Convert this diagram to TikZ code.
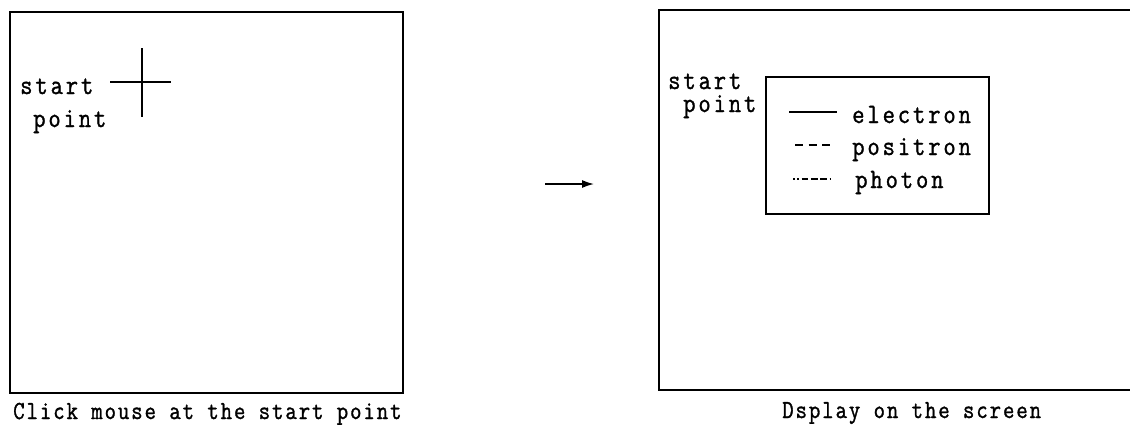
\documentclass[tikz,border=0pt]{standalone}
\usepackage{fontspec}
\setmonofont{Latin Modern Mono}
\usetikzlibrary{arrows.meta}
\newfontfamily\labelfont{Latin Modern Mono}[FakeStretch=0.85,LetterSpace=10.5,FakeBold=1.2]
\newfontfamily\captionfont{Latin Modern Mono}[FakeStretch=0.85,LetterSpace=7.5,FakeBold=1.2]
\tikzset{
  frame/.style={line width=1.7pt, line join=miter},
  legendframe/.style={line width=1.1pt},
  stroke/.style={line width=1.1pt},
  lbl/.style={anchor=base west, inner sep=0pt, font=\fontsize{21}{23}\labelfont},
  captext/.style={anchor=base west, inner sep=0pt, font=\fontsize{19.5}{23}\captionfont},
}
\begin{document}
\begin{tikzpicture}[x=0.75pt,y=-0.75pt]
\useasboundingbox (0,0) rectangle (1130,444);

% left screen: the user clicks at the start point
\draw[frame] (10,12) rectangle (403,393);
\node[lbl] (startL) at (20,94) {start};
\node[lbl] (pointL) at (33,127) {point};
% crosshair cursor
\coordinate (crossW) at (110,82);
\coordinate (crossE) at (171,82);
\coordinate (crossN) at (142,48);
\coordinate (crossS) at (142,117);
\draw[stroke] (crossW) -- (crossE);
\draw[stroke] (crossN) -- (crossS);
\node[captext] (capL) at (13,419) {Click mouse at the start point};

% transition arrow
\coordinate (arrA) at (545,184);
\coordinate (arrB) at (594,184);
\draw[stroke, -{Latex[length=9pt,width=6pt]}] (arrA) -- (arrB);

% right screen: the resulting legend display
\draw[frame] (1131,10) -- (659,10) -- (659,390) -- (1131,390);
\node[lbl] (startR) at (668,89) {start};
\node[lbl] (pointR) at (683,112) {point};
\draw[legendframe] (766,77) rectangle (989,214);

\coordinate (eA) at (789,112);
\coordinate (eB) at (837,112);
\draw[stroke] (eA) -- (eB);
\node[lbl] (electron) at (852,123) {electron};

\coordinate (pA) at (795,145);
\coordinate (pB) at (831,145);
\draw[stroke, dash pattern=on 6pt off 4.2pt] (pA) -- (pB);
\node[lbl] (positron) at (852,155) {positron};

\coordinate (gA) at (793,179);
\coordinate (gB) at (831,179);
\draw[stroke, dash pattern=on 1.2pt off 2pt on 1.2pt off 2pt on 5pt off 2pt on 5pt off 2pt on 5pt off 2pt] (gA) -- (gB);
\node[lbl] (photon) at (855,188) {photon};

\node[captext] (capR) at (782,418) {Dsplay on the screen};
\end{tikzpicture}
\end{document}
